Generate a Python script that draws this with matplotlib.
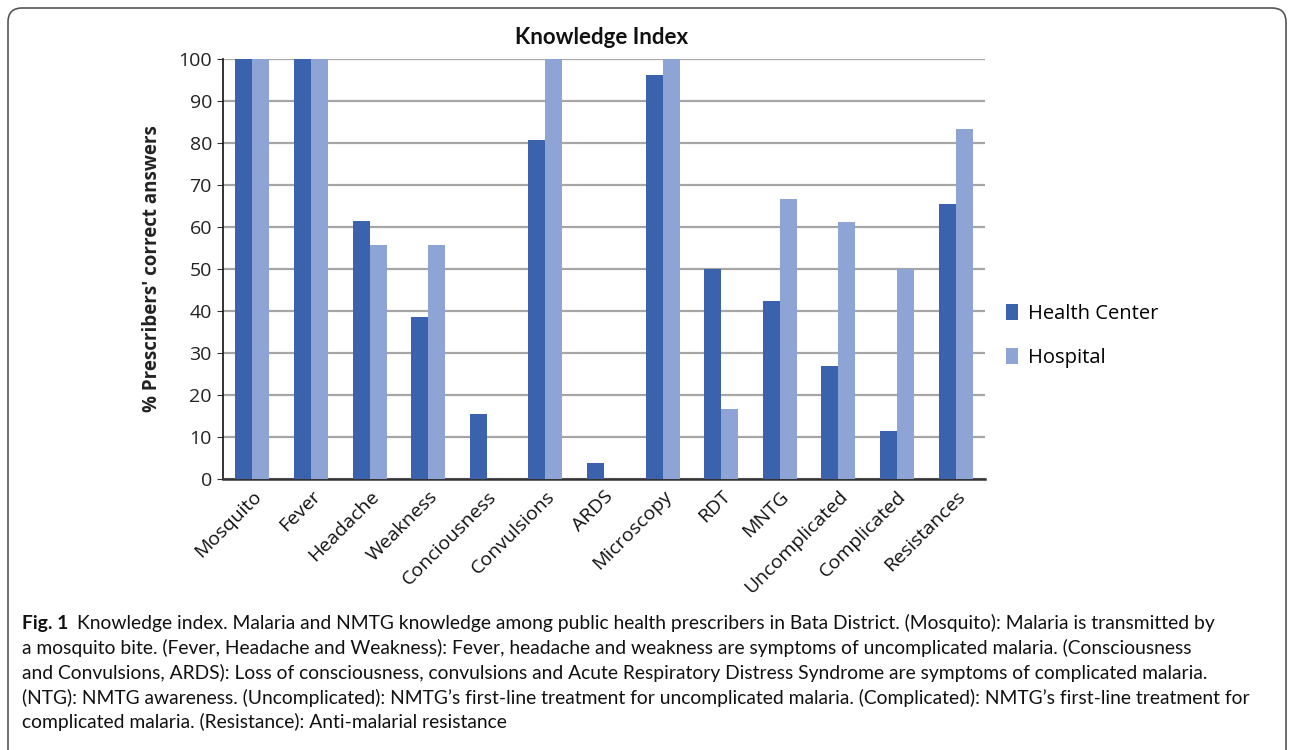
import numpy as np
import matplotlib
matplotlib.use("Agg")
import matplotlib.pyplot as plt
from matplotlib.patches import FancyBboxPatch
from matplotlib.transforms import IdentityTransform

categories = ["Mosquito", "Fever", "Headache", "Weakness", "Conciousness", "Convulsions",
              "ARDS", "Microscopy", "RDT", "MNTG", "Uncomplicated", "Complicated", "Resistances"]
healthCenter = [100, 100, 61.5, 38.5, 15.4, 80.8, 3.8, 96.2, 50.0, 42.3, 26.9, 11.5, 65.4]
hospital     = [100, 100, 55.6, 55.6, 0.0, 100, 0.0, 100, 16.7, 66.7, 61.1, 50.0, 83.3]
seriesNames  = ["Health Center", "Hospital"]
yTicks       = list(range(0, 101, 10))

captionBold  = "Fig. 1"
captionLines = [
  "Knowledge index. Malaria and NMTG knowledge among public health prescribers in Bata District. (Mosquito): Malaria is transmitted by",
  "a mosquito bite. (Fever, Headache and Weakness): Fever, headache and weakness are symptoms of uncomplicated malaria. (Consciousness",
  "and Convulsions, ARDS): Loss of consciousness, convulsions and Acute Respiratory Distress Syndrome are symptoms of complicated malaria.",
  "(NTG): NMTG awareness. (Uncomplicated): NMTG\u2019s first-line treatment for uncomplicated malaria. (Complicated): NMTG\u2019s first-line treatment for",
  "complicated malaria. (Resistance): Anti-malarial resistance",
]

W, H = 1292, 750
chartFont = "Open Sans"
capFont   = "Lato"
cDark  = "#3A62AD"
cLight = "#8EA4D5"
capSize = 13.9

fig = plt.figure(figsize=(W/100, H/100), dpi=100)
fig.patch.set_facecolor("white")

# axes placed in pixel terms: left 223, right 985, top 59, bottom 479
axL, axR, axT, axB = 223, 985, 59, 479
ax = fig.add_axes([axL/W, 1-axB/H, (axR-axL)/W, (axB-axT)/H])

x  = np.arange(len(categories))
bw = 0.29
ax.bar(x - bw/2, healthCenter, width=bw, color=cDark, label=seriesNames[0], zorder=3)
ax.bar(x + bw/2, hospital, width=bw, color=cLight, label=seriesNames[1], zorder=3)

ax.set_xlim(-0.5, len(categories)-0.5)
ax.set_ylim(0, 100)
ax.set_yticks(yTicks)
ax.set_yticklabels([str(t) for t in yTicks], fontsize=14, family=chartFont, color="#222222")
ax.set_xticks(x)
ax.set_xticklabels(categories, rotation=45, ha="right", rotation_mode="anchor",
                   fontsize=14, family=chartFont, color="#111111")
ax.tick_params(axis="x", length=0, pad=6)
ax.tick_params(axis="y", length=4, color="#333333", pad=4)
ax.yaxis.grid(True, color="#A6A6A6", linewidth=1.6, zorder=0)
for s in ["top", "right"]:
  ax.spines[s].set_visible(False)
ax.spines["left"].set_color("#111111")
ax.spines["bottom"].set_color("#333333")
ax.spines["bottom"].set_linewidth(1.8)
ax.spines["left"].set_linewidth(1.2)

ax.set_ylabel("% Prescribers' correct answers", fontsize=13.5, fontweight="bold",
              family=chartFont, labelpad=12, color="#222222")
fig.text(602/W, 1-37/H, "Knowledge Index", ha="center", va="center",
         fontsize=16, fontweight="bold", family=capFont, color="#111111")

ax.legend(loc="center left", bbox_to_anchor=(1006/W, 1-336/H), bbox_transform=fig.transFigure,
          frameon=False, prop={"family": chartFont, "size": 14.5}, handlelength=0.6, handleheight=0.8,
          labelspacing=1.2, handletextpad=0.5, borderaxespad=0, borderpad=0)

# rounded frame around the figure
frame = FancyBboxPatch((8, -30), W-14, H-8+30, boxstyle="round,pad=0,rounding_size=14",
                       transform=IdentityTransform(), fill=False, edgecolor="#555555", linewidth=1.2)
fig.patches.append(frame)

# caption
capY = [623, 648, 673, 698, 722]
bold = fig.text(22/W, 1-capY[0]/H, captionBold, ha="left", va="center", fontsize=capSize,
                fontweight="bold", family=capFont, color="#111111")
fig.canvas.draw()
bx = bold.get_window_extent().x1 + 9
fig.text(bx/W, 1-capY[0]/H, captionLines[0], ha="left", va="center", fontsize=capSize,
         family=capFont, color="#111111")
for ln, yy in zip(captionLines[1:], capY[1:]):
  fig.text(22/W, 1-yy/H, ln, ha="left", va="center", fontsize=capSize, family=capFont, color="#111111")

fig.savefig("out.png", dpi=100)
